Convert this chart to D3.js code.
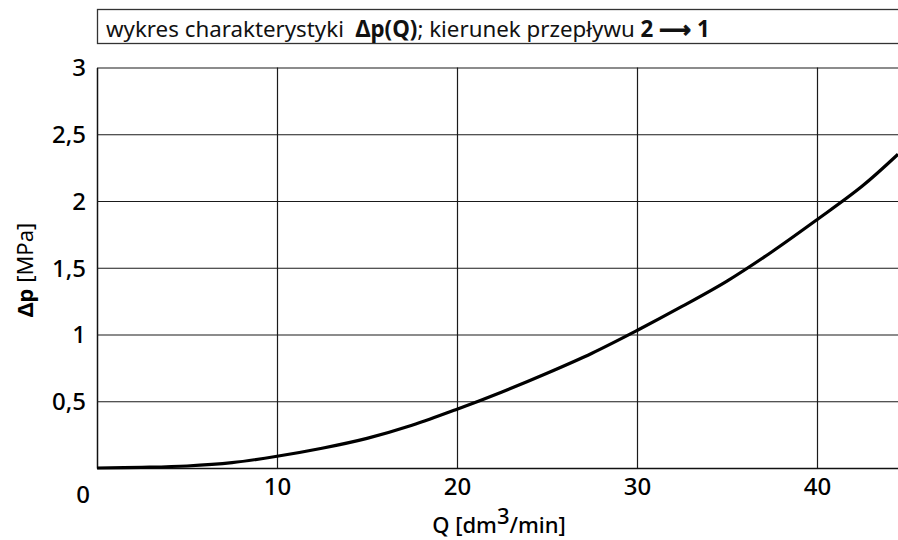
<!DOCTYPE html>
<html>
<head>
<meta charset="utf-8">
<script src="https://cdn.jsdelivr.net/npm/d3@7"></script>
<style>
  body { margin: 0; background: #fff; }
  svg { display: block; font-family: "Noto Sans", "Open Sans", sans-serif; }
</style>
</head>
<body>
<div id="chart"></div>
<script>
// chart values
const flowQ = [0, 2.5, 5, 7.5, 10, 12.5, 15, 17.5, 20, 22.5, 25, 27.5, 30, 32.5, 35, 37.5, 40, 42.5, 44.5];
const pressureDrop = [0, 0.005, 0.015, 0.04, 0.088, 0.148, 0.222, 0.32, 0.44, 0.57, 0.71, 0.86, 1.03, 1.21, 1.40, 1.62, 1.86, 2.11, 2.35];
const xTicks = [10, 20, 30, 40];
const yTicks = [0.5, 1, 1.5, 2, 2.5, 3];

const WIDTH = 898;
const HEIGHT = 540;
const MARGIN = { left: 97, right: 0, top: 67.5, bottom: 72 };
const PLOT_W = WIDTH - MARGIN.left - MARGIN.right;
const PLOT_H = HEIGHT - MARGIN.top - MARGIN.bottom;

const svg = d3.select("#chart").append("svg")
  .attr("width", WIDTH)
  .attr("height", HEIGHT);

// title box
const titleBox = svg.append("g");
titleBox.append("rect")
  .attr("x", 97.5).attr("y", 9.5)
  .attr("width", WIDTH).attr("height", 34)
  .attr("fill", "none").attr("stroke", "#333").attr("stroke-width", 1.3);

const title = titleBox.append("text")
  .attr("x", 106).attr("y", 37)
  .attr("font-size", 20).attr("fill", "#111");
title.append("tspan").text("wykres charakterystyki\u00a0\u00a0");
title.append("tspan").attr("font-weight", "bold").text("\u0394p(Q)");
title.append("tspan").text("; kierunek przepływu ");
title.append("tspan").attr("font-weight", "bold").text("2 ");
title.append("tspan").attr("font-weight", "bold")
  .attr("font-family", "DejaVu Sans")
  .attr("stroke", "#111").attr("stroke-width", 0.9)
  .text("\u27F6");
title.append("tspan").attr("font-weight", "bold").text(" 1");

// fit the title to the width it has in the picture
const titleLen = title.node().getComputedTextLength();
title.attr("font-size", 20 * 604 / titleLen);

const g = svg.append("g")
  .attr("transform", "translate(" + MARGIN.left + "," + MARGIN.top + ")");

let xScale = d3.scaleLinear().domain([0, 44.5]).range([0, PLOT_W]);
let yScale = d3.scaleLinear().domain([0, 3]).range([PLOT_H, 0]);

// grid + axes
const xAxis = g.append("g")
  .attr("transform", "translate(0," + PLOT_H + ")")
  .call(d3.axisBottom(xScale).tickValues(xTicks)
    .tickSizeInner(-PLOT_H).tickSizeOuter(0).tickPadding(10)
    .tickFormat(d3.format("d")));

const yAxis = g.append("g")
  .call(d3.axisLeft(yScale).tickValues(yTicks)
    .tickSizeInner(-PLOT_W).tickSizeOuter(0).tickPadding(11)
    .tickFormat(d => String(d).replace(".", ",")));

[xAxis, yAxis].forEach(ax => {
  ax.select(".domain").attr("stroke", "#111").attr("stroke-width", 1.5);
  ax.selectAll(".tick line").attr("stroke", "#1a1a1a").attr("stroke-width", 1.2);
  ax.selectAll(".tick text")
    .attr("font-size", 24).attr("font-weight", 500)
    .attr("font-family", "Noto Sans, sans-serif")
    .attr("fill", "#000");
});
yAxis.selectAll(".tick text").attr("dy", "0.35em");

// origin label shared by both axes
g.append("text")
  .attr("x", xScale(0) - 14).attr("y", yScale(0) + 35)
  .attr("text-anchor", "middle")
  .attr("font-size", 24).attr("font-weight", 500).attr("fill", "#000")
  .text("0");

// curve
const data = flowQ.map((q, i) => ({ q: q, dp: pressureDrop[i] }));
const line = d3.line()
  .x(d => xScale(d.q))
  .y(d => yScale(d.dp))
  .curve(d3.curveCatmullRom.alpha(0.5));

g.append("path")
  .datum(data)
  .attr("fill", "none")
  .attr("stroke", "#000")
  .attr("stroke-width", 3.2)
  .attr("d", line);

// axis titles
const xLabel = svg.append("text")
  .attr("x", 499).attr("y", 533)
  .attr("text-anchor", "middle")
  .attr("font-size", 22).attr("font-weight", 500).attr("fill", "#000");
xLabel.append("tspan").text("Q [dm");
xLabel.append("tspan").attr("dy", -9).text("3");
xLabel.append("tspan").attr("dy", 9).text("/min]");

const yLabel = svg.append("text")
  .attr("transform", "translate(33,270) rotate(-90)")
  .attr("text-anchor", "middle")
  .attr("font-size", 22).attr("fill", "#000");
yLabel.append("tspan").attr("font-weight", "bold").text("\u0394p");
yLabel.append("tspan").text(" [MPa]");
</script>
</body>
</html>
